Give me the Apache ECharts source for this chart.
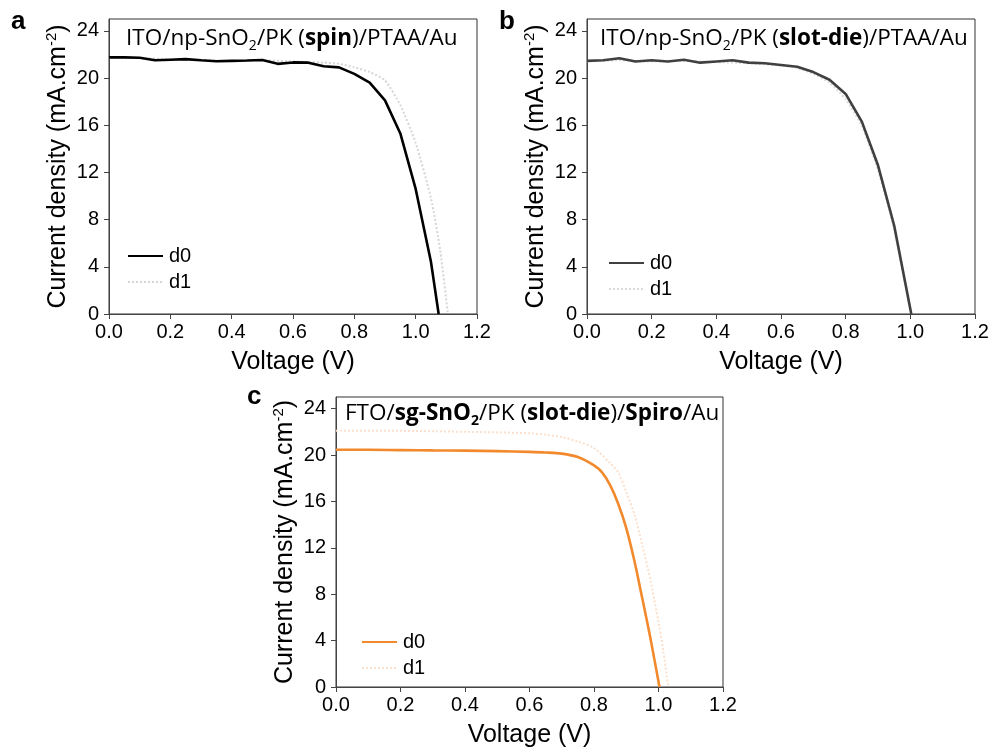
<!DOCTYPE html>
<html><head><meta charset="utf-8">
<script src="https://cdn.jsdelivr.net/npm/echarts@6/dist/echarts.min.js"></script>
<style>html,body{margin:0;padding:0;background:#fff}#c{width:992px;height:749px}</style>
</head><body><div id="c"></div>
<script>
// ---- data ----
const xTicks = [0, 0.2, 0.4, 0.6, 0.8, 1.0, 1.2];
const yTicks = [0, 4, 8, 12, 16, 20, 24];
const legendNames = ['d0', 'd1'];

const voltA0 = [0,0.05,0.1,0.15,0.2,0.25,0.3,0.35,0.4,0.45,0.5,0.55,0.6,0.65,0.7,0.75,0.8,0.85,0.9,0.95,1.0,1.05,1.075];
const currA0 = [21.75,21.75,21.72,21.5,21.55,21.6,21.5,21.42,21.45,21.48,21.52,21.2,21.32,21.3,21.0,20.9,20.35,19.6,18.1,15.3,10.6,4.4,0];
const voltA1 = [0,0.1,0.2,0.3,0.4,0.5,0.6,0.7,0.75,0.8,0.85,0.9,0.95,1.0,1.05,1.08,1.105];
const currA1 = [21.7,21.7,21.55,21.5,21.45,21.5,21.4,21.3,21.2,20.9,20.5,19.8,17.7,14.5,9.8,5.4,0];

const voltB0 = [0,0.05,0.1,0.15,0.2,0.25,0.3,0.35,0.4,0.45,0.5,0.55,0.6,0.65,0.7,0.75,0.8,0.85,0.9,0.95,1.003];
const currB0 = [21.45,21.5,21.68,21.4,21.5,21.4,21.55,21.3,21.4,21.5,21.3,21.25,21.1,20.95,20.5,19.85,18.65,16.3,12.6,7.5,0];
const voltB1 = [0,0.1,0.2,0.3,0.4,0.5,0.6,0.65,0.7,0.75,0.8,0.85,0.9,0.95,1.0];
const currB1 = [21.4,21.5,21.4,21.45,21.35,21.25,21.05,20.85,20.35,19.6,18.2,15.9,12.2,7.1,0.3];

const voltC0 = [0,0.1,0.2,0.3,0.4,0.5,0.6,0.65,0.7,0.75,0.8,0.825,0.85,0.875,0.9,0.925,0.95,0.975,1.003];
const currC0 = [20.45,20.45,20.42,20.4,20.38,20.33,20.27,20.22,20.12,19.82,19.1,18.5,17.4,15.8,13.7,10.9,7.6,4.2,0];
const voltC1 = [0,0.1,0.2,0.3,0.4,0.5,0.6,0.65,0.7,0.75,0.8,0.85,0.875,0.9,0.925,0.95,0.975,1.0,1.015,1.03];
const currC1 = [22.1,22.1,22.08,22.05,22.0,21.95,21.87,21.75,21.55,21.15,20.6,19.3,18.5,16.8,14.9,12.2,9.2,5.6,3.1,0];

// ---- build ----
const zip = (xs, ys) => xs.map((x, i) => [x, ys[i]]);
const FONT = '"Liberation Sans", Arial, sans-serif';
const TFONT = '"Open Sans", "Noto Sans", sans-serif';

const grids = [
  {left: 109, top: 19, width: 368, height: 295},
  {left: 587, top: 19, width: 388, height: 295},
  {left: 336, top: 397, width: 387, height: 296}
];

const titleRich = {
  n: {fontFamily: TFONT, fontSize: 22.5, fontWeight: 'normal', color: '#000', lineHeight: 28},
  b: {fontFamily: TFONT, fontSize: 22.5, fontWeight: 'bold', color: '#000', lineHeight: 28},
  sub: {fontFamily: TFONT, fontSize: 14, fontWeight: 'normal', color: '#000', verticalAlign: 'bottom', lineHeight: 14},
  bsub: {fontFamily: TFONT, fontSize: 14, fontWeight: 'bold', color: '#000', verticalAlign: 'bottom', lineHeight: 14}
};

const titles = [
  {left: 126, top: 25, text: '{n|ITO/np-SnO}{sub|2}{n|/PK (}{b|spin}{n|)/PTAA/Au}'},
  {left: 600, top: 25, text: '{n|ITO/np-SnO}{sub|2}{n|/PK (}{b|slot-die}{n|)/PTAA/Au}'},
  {left: 345, top: 400, text: '{n|FTO/}{b|sg-SnO}{bsub|2}{n|/PK (}{b|slot-die}{n|)/}{b|Spiro}{n|/Au}'}
].map(t => ({left: t.left, top: t.top, text: t.text, padding: 0,
  textStyle: {fontWeight: 'normal', fontFamily: TFONT, rich: titleRich}}));

const xAxes = grids.map((g, i) => ({
  gridIndex: i, type: 'value', min: 0, max: 1.2, interval: 0.2,
  name: 'Voltage (V)', nameLocation: 'middle', nameGap: 36,
  nameTextStyle: {fontFamily: FONT, fontSize: 25, color: '#000'},
  axisLine: {lineStyle: {color: '#444', width: 1}},
  axisTick: {show: true, inside: false, length: 5, lineStyle: {color: '#444'}},
  axisLabel: {fontFamily: FONT, fontSize: 20, color: '#000', margin: 8,
    formatter: v => v.toFixed(1)},
  splitLine: {show: false}
}));

const yAxes = grids.map((g, i) => ({
  gridIndex: i, type: 'value', min: 0, max: 25,
  name: '{n|Current density (mA.cm}{s|-2}{n|)}', nameLocation: 'middle', nameGap: 37,
  nameRotate: 90,
  nameTextStyle: {rich: {
    n: {fontFamily: FONT, fontSize: 25, color: '#000', lineHeight: 28},
    s: {fontFamily: FONT, fontSize: 15, color: '#000', verticalAlign: 'top', lineHeight: 15}
  }},
  axisLine: {lineStyle: {color: '#444', width: 1}},
  axisTick: {show: true, inside: false, length: 5, lineStyle: {color: '#444'}, customValues: yTicks},
  axisLabel: {fontFamily: FONT, fontSize: 20, color: '#000', margin: 10, customValues: yTicks},
  splitLine: {show: false}
}));

function line(name, idx, xs, ys, color, width, type, smooth) {
  return {
    name, type: 'line', xAxisIndex: idx, yAxisIndex: idx,
    data: zip(xs, ys), symbol: 'none', smooth: smooth || false,
    lineStyle: {color, width, type}, itemStyle: {color},
    z: type === 'solid' ? 3 : 2
  };
}

const series = [
  line('a-d1', 0, voltA1, currA1, '#d6d6d6', 2, 'dotted', 0.2),
  line('a-d0', 0, voltA0, currA0, '#000000', 2.6, 'solid'),
  line('b-d1', 1, voltB1, currB1, '#dadada', 2, 'dotted', 0.2),
  line('b-d0', 1, voltB0, currB0, '#404040', 2.6, 'solid'),
  line('c-d1', 2, voltC1, currC1, '#fde0cb', 2, 'dotted', 0.3),
  line('c-d0', 2, voltC0, currC0, '#f28a2d', 2.6, 'solid', 0.3)
];

const legendPos = [
  {left: 127, top: 246, p: 'a'},
  {left: 608, top: 253, p: 'b'},
  {left: 361, top: 632, p: 'c'}
];
const legends = legendPos.map(l => ({
  left: l.left, top: l.top, orient: 'vertical', padding: 0,
  itemWidth: 35, itemHeight: 14, itemGap: 6, selectedMode: false,
  itemStyle: {opacity: 0},
  data: legendNames.map(n => l.p + '-' + n),
  formatter: name => name.split('-')[1],
  textStyle: {fontFamily: FONT, fontSize: 20, color: '#000', padding: [0,0,0,1]}
}));

const letters = [
  {t: 'a', x: 11, y: 22},
  {t: 'b', x: 499, y: 22},
  {t: 'c', x: 247, y: 397}
].map(l => ({
  type: 'text', x: l.x, y: l.y,
  style: {text: l.t, font: 'bold 26px "Liberation Sans", Arial, sans-serif', fill: '#000', verticalAlign: 'middle', align: 'left'}
}));

const chart = echarts.init(document.getElementById('c'), null, {renderer: 'canvas'});
chart.setOption({
  animation: false,
  backgroundColor: '#fff',
  title: titles,
  grid: grids.map(g => Object.assign({show: true, borderColor: '#333', borderWidth: 1, backgroundColor: 'transparent'}, g)),
  xAxis: xAxes,
  yAxis: yAxes,
  legend: legends,
  series,
  graphic: letters
});
</script></body></html>
